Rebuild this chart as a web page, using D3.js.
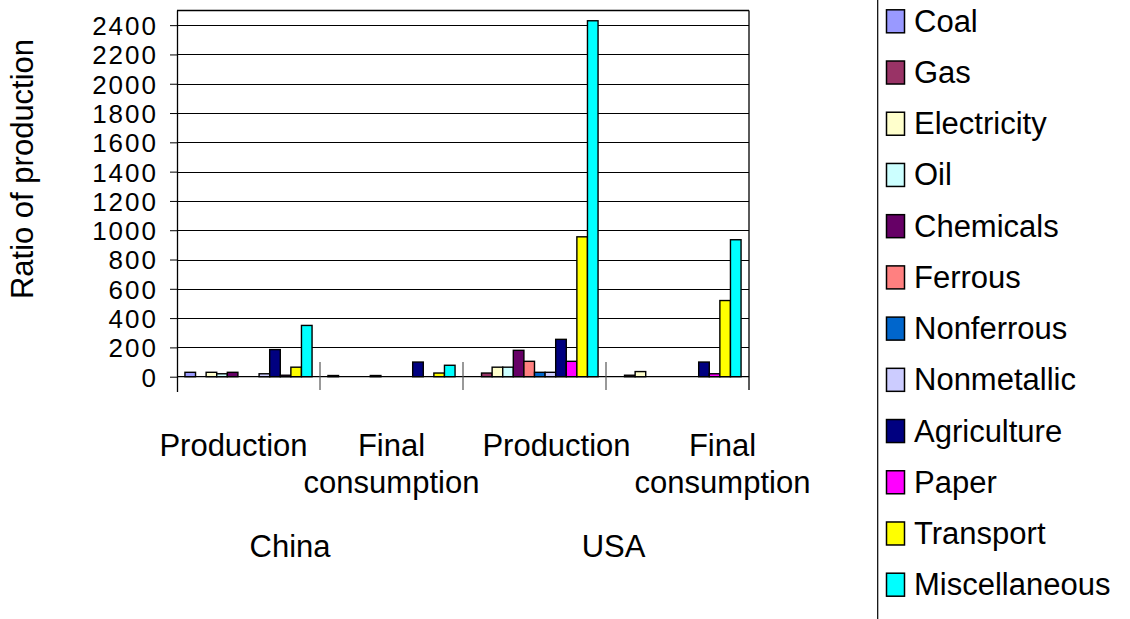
<!DOCTYPE html>
<html>
<head>
<meta charset="utf-8">
<script src="https://cdn.jsdelivr.net/npm/d3@7"></script>
<style>
  html, body { margin: 0; padding: 0; background: #fff; }
  svg { display: block; }
  text { font-family: "Liberation Sans", Arial, sans-serif; fill: #000; }
</style>
</head>
<body>
<svg id="chart" width="1130" height="619"></svg>
<script>
// Sector series, in legend order
const sectors = ["Coal", "Gas", "Electricity", "Oil", "Chemicals", "Ferrous",
  "Nonferrous", "Nonmetallic", "Agriculture", "Paper", "Transport", "Miscellaneous"];
const sectorColors = ["#9999FF", "#993366", "#FFFFCC", "#CCFFFF", "#660066", "#FF8080",
  "#0066CC", "#CCCCFF", "#000080", "#FF00FF", "#FFFF00", "#00FFFF"];

// Two-level category axis: country, then stage
const countries = ["China", "USA"];
const stages = ["Production", "Final consumption"];

// Ratio of production per sector (same order as sectors)
const chinaProduction = [30, 0, 30, 20, 30, 0, 0, 20, 185, 10, 65, 350];
const chinaFinal      = [8, 0, 0, 0, 8, 0, 0, 0, 100, 0, 25, 78];
const usaProduction   = [0, 25, 65, 65, 180, 105, 30, 30, 255, 105, 955, 2430];
const usaFinal        = [0, 10, 35, 0, 0, 0, 0, 0, 100, 20, 520, 935];

const yTicks = [0, 200, 400, 600, 800, 1000, 1200, 1400, 1600, 1800, 2000, 2200, 2400];

const groups = [
  { country: "China", stage: "Production", values: chinaProduction },
  { country: "China", stage: "Final consumption", values: chinaFinal },
  { country: "USA", stage: "Production", values: usaProduction },
  { country: "USA", stage: "Final consumption", values: usaFinal }
];
groups.forEach((g, i) => g.key = i);

const svg = d3.select("#chart");
const plot = { left: 177, right: 749, top: 10.5, bottom: 376.7 };

const x0 = d3.scaleBand()
  .domain(groups.map(g => g.key))
  .range([plot.left, plot.right])
  .padding(0);
const x1 = d3.scaleBand()
  .domain(sectors)
  .range([0, x0.bandwidth()])
  .paddingInner(0)
  .paddingOuter(0.75);
const y = d3.scaleLinear().domain([0, 2500]).range([plot.bottom, plot.top]);
const color = d3.scaleOrdinal().domain(sectors).range(sectorColors);

// Horizontal gridlines
svg.append("g")
  .selectAll("line")
  .data(yTicks.filter(t => t > 0))
  .join("line")
  .attr("x1", plot.left).attr("x2", plot.right)
  .attr("y1", d => Math.round(y(d)) + 0.5).attr("y2", d => Math.round(y(d)) + 0.5)
  .attr("stroke", "#000").attr("stroke-width", 1);

// Plot frame: top and right edges
svg.append("line")
  .attr("x1", plot.left).attr("x2", plot.right)
  .attr("y1", plot.top).attr("y2", plot.top)
  .attr("stroke", "#000").attr("stroke-width", 1.3);
svg.append("line")
  .attr("x1", plot.right).attr("x2", plot.right)
  .attr("y1", plot.top).attr("y2", 390)
  .attr("stroke", "#000").attr("stroke-width", 1.3);

// Bars
const gGroups = svg.append("g")
  .selectAll("g")
  .data(groups)
  .join("g")
  .attr("transform", d => `translate(${x0(d.key)},0)`);

gGroups.selectAll("rect")
  .data(d => d.values.map((v, i) => ({ sector: sectors[i], value: v })).filter(d => d.value > 0))
  .join("rect")
  .attr("x", d => x1(d.sector))
  .attr("width", x1.bandwidth())
  .attr("y", d => y(d.value))
  .attr("height", d => y(0) - y(d.value))
  .attr("fill", d => color(d.sector))
  .attr("stroke", "#000")
  .attr("stroke-width", 1.4);

// Y axis
const yAxis = svg.append("g")
  .attr("transform", `translate(${plot.left},0)`)
  .call(d3.axisLeft(y).tickValues(yTicks).tickFormat(d3.format("d"))
    .tickSize(7).tickPadding(12).tickSizeOuter(0));
yAxis.select(".domain").attr("stroke", "#000").attr("stroke-width", 1.3)
  .attr("d", `M0.5,${plot.top}V392`);
yAxis.selectAll(".tick line").attr("stroke", "#000");
yAxis.selectAll(".tick text")
  .style("font-size", "26px")
  .style("letter-spacing", "2px")
  .style("font-family", "'Liberation Sans', Arial, sans-serif")
  .attr("fill", "#000")
  .attr("dy", "0.36em");

// Category axis baseline and group separators
svg.append("line")
  .attr("x1", plot.left).attr("x2", plot.right)
  .attr("y1", plot.bottom).attr("y2", plot.bottom)
  .attr("stroke", "#000").attr("stroke-width", 1.3);
const boundaries = groups.map(g => x0(g.key)).slice(1);
svg.append("g")
  .selectAll("line")
  .data(boundaries)
  .join("line")
  .attr("x1", d => d).attr("x2", d => d)
  .attr("y1", 362).attr("y2", 390)
  .attr("stroke", "#555").attr("stroke-width", 1.2);

// Stage labels (inner level)
const stageShift = [-15, 0, 22, 45];
const stageText = svg.append("g")
  .selectAll("text")
  .data(groups)
  .join("text")
  .attr("text-anchor", "middle")
  .style("font-size", "31px")
  .attr("x", (d, i) => x0(d.key) + x0.bandwidth() / 2 + stageShift[i])
  .attr("y", 456);
stageText.each(function(d) {
  const words = d.stage.split(" ");
  const t = d3.select(this);
  words.forEach((w, k) => {
    t.append("tspan")
      .attr("x", t.attr("x"))
      .attr("dy", k === 0 ? 0 : 37)
      .text(w);
  });
});

// Country labels (outer level)
const countryShift = { China: -30, USA: 7.5 };
svg.append("g")
  .selectAll("text")
  .data(countries)
  .join("text")
  .attr("text-anchor", "middle")
  .style("font-size", "31px")
  .attr("x", c => {
    const ks = groups.filter(g => g.country === c).map(g => g.key);
    return (x0(ks[0]) + x0(ks[ks.length - 1]) + x0.bandwidth()) / 2 + countryShift[c];
  })
  .attr("y", 556.5)
  .text(c => c);

// Y axis title
svg.append("text")
  .attr("transform", "translate(33,169) rotate(-90)")
  .attr("text-anchor", "middle")
  .style("font-size", "31px")
  .text("Ratio of production");

// Legend
svg.append("line")
  .attr("x1", 877.7).attr("x2", 877.7)
  .attr("y1", 0).attr("y2", 619)
  .attr("stroke", "#000").attr("stroke-width", 1.2);
const legendY = d3.scalePoint().domain(sectors).range([9.3, 572.7]);
const items = svg.append("g")
  .selectAll("g")
  .data(sectors)
  .join("g")
  .attr("transform", d => `translate(886,${legendY(d)})`);
items.append("rect")
  .attr("x", 0.5).attr("y", 0.5)
  .attr("width", 18).attr("height", 23)
  .attr("fill", d => color(d))
  .attr("stroke", "#000").attr("stroke-width", 1.5);
items.append("text")
  .attr("x", 28).attr("y", 22.5)
  .style("font-size", "31px")
  .text(d => d);
</script>
</body>
</html>
